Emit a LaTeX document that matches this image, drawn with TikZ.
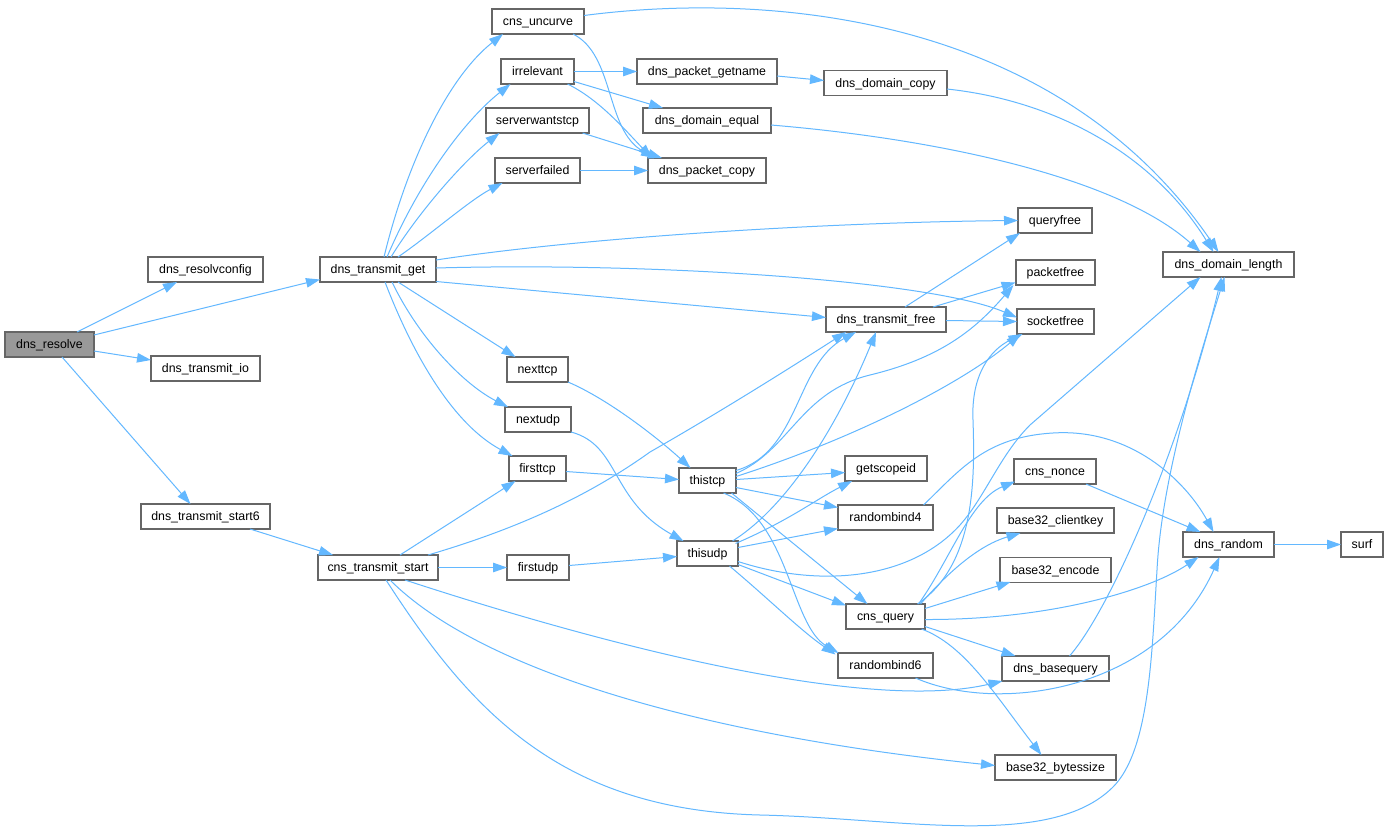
\documentclass[tikz,border=0pt]{standalone}
\usepackage{fontspec}
\setmainfont{Liberation Sans}
\usetikzlibrary{arrows.meta,calc}
\definecolor{edgeblue}{HTML}{63B8FF}
\definecolor{boxgray}{HTML}{666666}
\definecolor{focusgray}{HTML}{999999}
\begin{document}
\begin{tikzpicture}[x=1pt,y=-1pt,
  fn/.style={draw=boxgray, line width=1.2pt, fill=white, minimum height=25pt, inner sep=0pt, text height=8.4pt, text depth=0pt, font=\fontsize{12.35}{14}\selectfont},
  focus/.style={fn, fill=focusgray},
  call/.style={draw=edgeblue, line width=1pt, -{Triangle[length=14pt,width=9.5pt]}}]
\fill[white] (0,0) rectangle (1389,836);
\useasboundingbox (0,0) rectangle (1389,836);
% nodes
\node[focus, minimum width=89] (res) at (49.5,344.5) {dns\_resolve};
\node[fn, minimum width=115] (cfg) at (205.5,269.5) {dns\_resolvconfig};
\node[fn, minimum width=116] (get) at (378,269.5) {dns\_transmit\_get};
\node[fn, minimum width=109] (io) at (205.5,368.5) {dns\_transmit\_io};
\node[fn, minimum width=129] (st6) at (205.5,516.5) {dns\_transmit\_start6};
\node[fn, minimum width=120] (cts) at (378,567.5) {cns\_transmit\_start};
\node[fn, minimum width=92] (unc) at (538,21.5) {cns\_uncurve};
\node[fn, minimum width=73] (irr) at (537.5,71.5) {irrelevant};
\node[fn, minimum width=103] (swt) at (537.5,120.5) {serverwantstcp};
\node[fn, minimum width=85] (sfl) at (537.5,170.5) {serverfailed};
\node[fn, minimum width=140] (pgn) at (707,71.5) {dns\_packet\_getname};
\node[fn, minimum width=123] (dcp) at (885.5,83) {dns\_domain\_copy};
\node[fn, minimum width=128] (deq) at (707,120.5) {dns\_domain\_equal};
\node[fn, minimum width=118] (pcp) at (707,170.5) {dns\_packet\_copy};
\node[fn, minimum width=131] (dlen) at (1228.5,264.5) {dns\_domain\_length};
\node[fn, minimum width=74] (qf) at (1055,220.5) {queryfree};
\node[fn, minimum width=79] (pf) at (1055.5,272.5) {packetfree};
\node[fn, minimum width=77] (sf) at (1055.5,321.5) {socketfree};
\node[fn, minimum width=120] (dtf) at (886,319.5) {dns\_transmit\_free};
\node[fn, minimum width=61] (ntcp) at (537.5,369.5) {nexttcp};
\node[fn, minimum width=66] (nudp) at (538,419.5) {nextudp};
\node[fn, minimum width=57] (ftcp) at (537.5,468.5) {firsttcp};
\node[fn, minimum width=62] (fudp) at (538,567.5) {firstudp};
\node[fn, minimum width=57] (ttcp) at (707.5,480.5) {thistcp};
\node[fn, minimum width=61] (tudp) at (707.5,553.5) {thisudp};
\node[fn, minimum width=82] (gsid) at (886,468.5) {getscopeid};
\node[fn, minimum width=95] (rb4) at (885.5,517.5) {randombind4};
\node[fn, minimum width=79] (cq) at (885.5,616.5) {cns\_query};
\node[fn, minimum width=95] (rb6) at (885.5,665.5) {randombind6};
\node[fn, minimum width=82] (nonce) at (1055,471.5) {cns\_nonce};
\node[fn, minimum width=117] (ck) at (1055.5,520.5) {base32\_clientkey};
\node[fn, minimum width=111] (enc) at (1055.5,570) {base32\_encode};
\node[fn, minimum width=107] (bq) at (1055.5,668.5) {dns\_basequery};
\node[fn, minimum width=121] (bs) at (1055.5,767.5) {base32\_bytessize};
\node[fn, minimum width=91] (rnd) at (1228.5,544.5) {dns\_random};
\node[fn, minimum width=42] (surf) at (1362,544.5) {surf};
% edges
\draw[call] ($(res)+(27.5,-12.5)$) -- ($(cfg)+(-28.5,12.5)$);
\draw[call] ($(res)+(44.5,-9.5)$) -- ($(get)+(-58,10)$);
\draw[call] ($(res)+(44.5,6.5)$) -- ($(io)+(-54.5,-8.5)$);
\draw[call] ($(res)+(12.5,12.5)$) -- ($(st6)+(-15,-12.5)$);
\draw[call] ($(st6)+(44.5,12.5)$) -- ($(cts)+(-45,-12.5)$);
\draw[call] ($(get)+(6,-12.5)$) .. controls (405,170) and (445,80) .. ($(unc)+(-35,12.5)$);
\draw[call] ($(get)+(9,-12.5)$) .. controls (420,180) and (465,120) .. ($(irr)+(-27,12.5)$);
\draw[call] ($(get)+(13,-12.5)$) .. controls (420,210) and (465,160) .. ($(swt)+(-38,12.5)$);
\draw[call] ($(get)+(20,-12.5)$) .. controls (430,235) and (470,200) .. ($(sfl)+(-35,12.5)$);
\draw[call] ($(get)+(58,-9.5)$) .. controls (600,235) and (850,222) .. ($(qf)+(-37,0)$);
\draw[call] ($(get)+(58,-1.5)$) .. controls (650,262) and (930,280) .. ($(sf)+(-38.5,-4)$);
\draw[call] ($(get)+(58,12)$) -- ($(dtf)+(-60,-2)$);
\draw[call] ($(get)+(20,12.5)$) -- ($(ntcp)+(-22,-12.5)$);
\draw[call] ($(get)+(14,12.5)$) .. controls (420,340) and (465,385) .. ($(nudp)+(-30,-12.5)$);
\draw[call] ($(get)+(7,12.5)$) .. controls (415,360) and (455,425) .. ($(ftcp)+(-25,-12.5)$);
\draw[call] ($(cts)+(22,-12.5)$) -- ($(ftcp)+(-22,12.5)$);
\draw[call] ($(cts)+(50,-12.5)$) .. controls (520,528) and (590,495) .. (650,452) .. controls (720,412) and (790,368) .. ($(dtf)+(-40,12.5)$);
\draw[call] ($(cts)+(60,0)$) -- ($(fudp)+(-31,0)$);
\draw[call] ($(cts)+(27,12.5)$) .. controls (650,660) and (880,710) .. ($(bq)+(-53,12.5)$);
\draw[call] ($(cts)+(12,12.5)$) .. controls (480,670) and (700,735) .. ($(bs)+(-60.5,-2)$);
\draw[call] ($(cts)+(8,12.5)$) .. controls (470,710) and (560,810) .. (760,815) .. controls (900,818) and (1050,850) .. (1113,787) .. controls (1150,750) and (1152,650) .. (1157,570) .. controls (1162,470) and (1205,340) .. ($(dlen)+(-4,12.5)$);
\draw[call] ($(unc)+(46,-6)$) .. controls (780,-10) and (1060,20) .. ($(dlen)+(-10,-12.5)$);
\draw[call] ($(unc)+(35,12.5)$) .. controls (615,55) and (605,130) .. ($(pcp)+(-52,-12.5)$);
\draw[call] ($(irr)+(36.5,0)$) -- ($(pgn)+(-70,0)$);
\draw[call] ($(irr)+(36.5,10)$) -- ($(deq)+(-44,-12.5)$);
\draw[call] ($(irr)+(30,12.5)$) .. controls (600,100) and (625,130) .. ($(pcp)+(-55,-12.5)$);
\draw[call] ($(swt)+(45,12.5)$) -- ($(pcp)+(-45,-12.5)$);
\draw[call] ($(sfl)+(42.5,0)$) -- ($(pcp)+(-59,0)$);
\draw[call] ($(pgn)+(70,4.5)$) -- ($(dcp)+(-61.5,-2.5)$);
\draw[call] ($(dcp)+(61.5,6)$) .. controls (1050,100) and (1150,150) .. ($(dlen)+(-15,-12.5)$);
\draw[call] ($(deq)+(64,4.5)$) .. controls (950,140) and (1120,180) .. ($(dlen)+(-28,-12.5)$);
\draw[call] ($(dtf)+(19,-12.5)$) -- ($(qf)+(-35,12.5)$);
\draw[call] ($(dtf)+(47,-12.5)$) -- ($(pf)+(-40,10)$);
\draw[call] ($(dtf)+(60,1)$) -- ($(sf)+(-38.5,0)$);
\draw[call] ($(ntcp)+(30.5,12.5)$) .. controls (610,400) and (660,440) .. ($(ttcp)+(-17,-12.5)$);
\draw[call] ($(nudp)+(33,12.5)$) .. controls (620,445) and (610,500) .. ($(tudp)+(-24,-12.5)$);
\draw[call] ($(ftcp)+(28.5,3)$) -- ($(ttcp)+(-28.5,-1)$);
\draw[call] ($(fudp)+(31,-2)$) -- ($(tudp)+(-30.5,3)$);
\draw[call] ($(ttcp)+(28.5,-10)$) .. controls (800,452) and (795,365) .. ($(dtf)+(-30,12.5)$);
\draw[call] ($(ttcp)+(28.5,-7)$) .. controls (790,450) and (800,392) .. (870,375) .. controls (940,358) and (975,330) .. ($(pf)+(-42,12.5)$);
\draw[call] ($(ttcp)+(28.5,-4)$) .. controls (850,440) and (960,385) .. ($(sf)+(-35,12.5)$);
\draw[call] ($(ttcp)+(28.5,-1)$) -- ($(gsid)+(-41,4)$);
\draw[call] ($(ttcp)+(28.5,7)$) -- ($(rb4)+(-47.5,-10)$);
\draw[call] ($(ttcp)+(24,12.5)$) -- ($(cq)+(-18,-12.5)$);
\draw[call] ($(ttcp)+(16,12.5)$) .. controls (790,520) and (790,625) .. ($(rb6)+(-47,-12.5)$);
\draw[call] ($(tudp)+(25,-12.5)$) .. controls (790,505) and (840,420) .. ($(dtf)+(-10,12.5)$);
\draw[call] ($(tudp)+(28,-10)$) .. controls (790,520) and (815,500) .. ($(gsid)+(-34,12.5)$);
\draw[call] ($(tudp)+(30.5,-6)$) -- ($(rb4)+(-47.5,11)$);
\draw[call] ($(tudp)+(30.5,11)$) -- ($(cq)+(-39.5,-11)$);
\draw[call] ($(tudp)+(22,12.5)$) .. controls (770,600) and (800,630) .. ($(rb6)+(-50,-11)$);
\draw[call] ($(tudp)+(30.5,8)$) .. controls (820,588) and (910,580) .. (960,525) .. controls (985,497) and (1000,455) .. (1030,425) -- ($(dlen)+(-28,12.5)$);
\draw[call] ($(rb4)+(38,-12.5)$) .. controls (960,470) and (985,437) .. (1053,433) .. controls (1130,428) and (1185,480) .. ($(rnd)+(-15,-12.5)$);
\draw[call] ($(cq)+(32,-12.5)$) .. controls (975,565) and (975,480) .. (973,420) .. controls (971,375) and (990,350) .. ($(sf)+(-33,12.5)$);
\draw[call] ($(cq)+(33,-12.5)$) .. controls (950,560) and (970,500) .. ($(nonce)+(-40,10)$);
\draw[call] ($(cq)+(35,-12.5)$) .. controls (950,570) and (980,545) .. ($(ck)+(-35,12.5)$);
\draw[call] ($(cq)+(39.5,-8)$) -- ($(enc)+(-45,12)$);
\draw[call] ($(cq)+(39.5,3)$) .. controls (1050,620) and (1150,590) .. ($(rnd)+(-30,12.5)$);
\draw[call] ($(cq)+(39.5,10)$) -- ($(bq)+(-40,-12.5)$);
\draw[call] ($(cq)+(36,12.5)$) .. controls (965,645) and (995,695) .. ($(bs)+(-14,-12.5)$);
\draw[call] ($(rb6)+(30,12.5)$) .. controls (1000,715) and (1160,690) .. ($(rnd)+(-9,12.5)$);
\draw[call] ($(nonce)+(31,12.5)$) -- ($(rnd)+(-28,-12.5)$);
\draw[call] ($(rnd)+(45.5,0)$) -- ($(surf)+(-21,0)$);
\draw[call] ($(bq)+(14,-12.5)$) .. controls (1110,610) and (1180,450) .. ($(dlen)+(-7,12.5)$);
\end{tikzpicture}
\end{document}
